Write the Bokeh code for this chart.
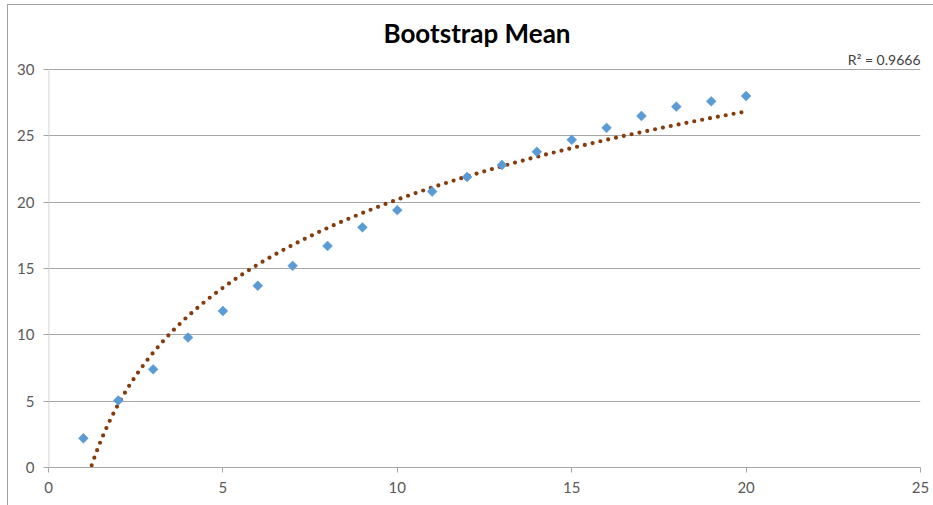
import numpy as np
from bokeh.plotting import figure
from bokeh.models import ColumnDataSource, Label, FixedTicker, Range1d, InlineStyleSheet
from bokeh.embed import file_html
from bokeh.resources import INLINE

# Data
sample_n = [1, 2, 3, 4, 5, 6, 7, 8, 9, 10, 11, 12, 13, 14, 15, 16, 17, 18, 19, 20]
boot_mean = [2.2, 5.05, 7.4, 9.8, 11.8, 13.7, 15.2, 16.7, 18.1, 19.4,
             20.8, 21.9, 22.8, 23.8, 24.7, 25.6, 26.5, 27.2, 27.6, 28.0]
x_ticks = [0, 5, 10, 15, 20, 25]
y_ticks = [0, 5, 10, 15, 20, 25, 30]
title_text = "Bootstrap Mean"
r2_text = "R\u00b2 = 0.9666"
x_min, x_max = 0, 25
y_min, y_max = 0, 30

# Logarithmic trendline fitted to the data (as Excel does)
xs = np.array(sample_n, dtype=float)
ys = np.array(boot_mean, dtype=float)
a, b = np.polyfit(np.log(xs), ys, 1)
tx = np.linspace(min(sample_n), max(sample_n), 400)
ty = a * np.log(tx) + b
mask = ty >= y_min
tx, ty = tx[mask], ty[mask]

FONT = "Lato"
TXT = "#595959"

FRAME_H = 467          # frame spans whole height above the x axis
AXIS_H = 398           # pixel height of the 0..30 value range
y_top = y_max * FRAME_H / AXIS_H   # extra headroom for title / R² text

p = figure(width=933, height=505, output_backend="svg", toolbar_location=None,
           title=None,
           x_range=Range1d(x_min, x_max), y_range=Range1d(y_min, y_top),
           min_border_left=48, min_border_right=13, min_border_top=0, min_border_bottom=38)
p.outline_line_color = None
p.background_fill_color = "white"
p.border_fill_color = "white"

# chart-area border (top and left edges, as in the original)
p.stylesheets = [InlineStyleSheet(css="""
:host::after {
  content: "";
  position: absolute;
  left: 7px; top: 4px; right: -2px; bottom: -2px;
  border-left: 1px solid #A0A0A0;
  border-top: 1px solid #A0A0A0;
  pointer-events: none;
  z-index: 10;
}
""")]

p.line(tx, ty, line_color="#843C0C", line_width=4.2, line_dash="0 8", line_cap="round")
src = ColumnDataSource(dict(x=sample_n, y=boot_mean))
p.scatter("x", "y", source=src, marker="square", size=7, angle=np.pi / 4,
          fill_color="#5B9BD5", line_color="#5B9BD5", line_width=0.5)

p.xgrid.grid_line_color = None
p.ygrid.grid_line_color = "#A6A6A6"
p.ygrid.grid_line_width = 1
p.ygrid.ticker = FixedTicker(ticks=y_ticks)

p.xaxis.ticker = FixedTicker(ticks=x_ticks)
p.yaxis.ticker = FixedTicker(ticks=y_ticks)
for ax in (p.xaxis, p.yaxis):
    ax.axis_line_color = "#A6A6A6"
    ax.major_tick_line_color = "#A6A6A6"
    ax.minor_tick_line_color = None
    ax.major_tick_in = 0
    ax.major_tick_out = 5
    ax.major_label_text_font = FONT
    ax.major_label_text_font_size = "15px"
    ax.major_label_text_color = TXT
    ax.major_label_standoff = 9
# value-axis line only spans the 0..30 range
p.yaxis.axis_line_color = None
p.segment(x0=[x_min], y0=[y_min], x1=[x_min], y1=[y_max],
          line_color="#C8C8C8", line_width=1.5)

p.add_layout(Label(x=(x_min + x_max) / 2, y=y_max, x_offset=-7.5, y_offset=36.4,
                   text=title_text, text_align="center", text_baseline="alphabetic",
                   text_font=FONT, text_font_style="bold", text_font_size="26px",
                   text_color="#000000"))
p.add_layout(Label(x=x_max, y=y_max, x_offset=0, y_offset=9.6, text=r2_text,
                   text_align="right", text_baseline="alphabetic",
                   text_font=FONT, text_font_size="14px", text_color="#404040"))

open("out.html", "w").write(file_html(p, INLINE))
